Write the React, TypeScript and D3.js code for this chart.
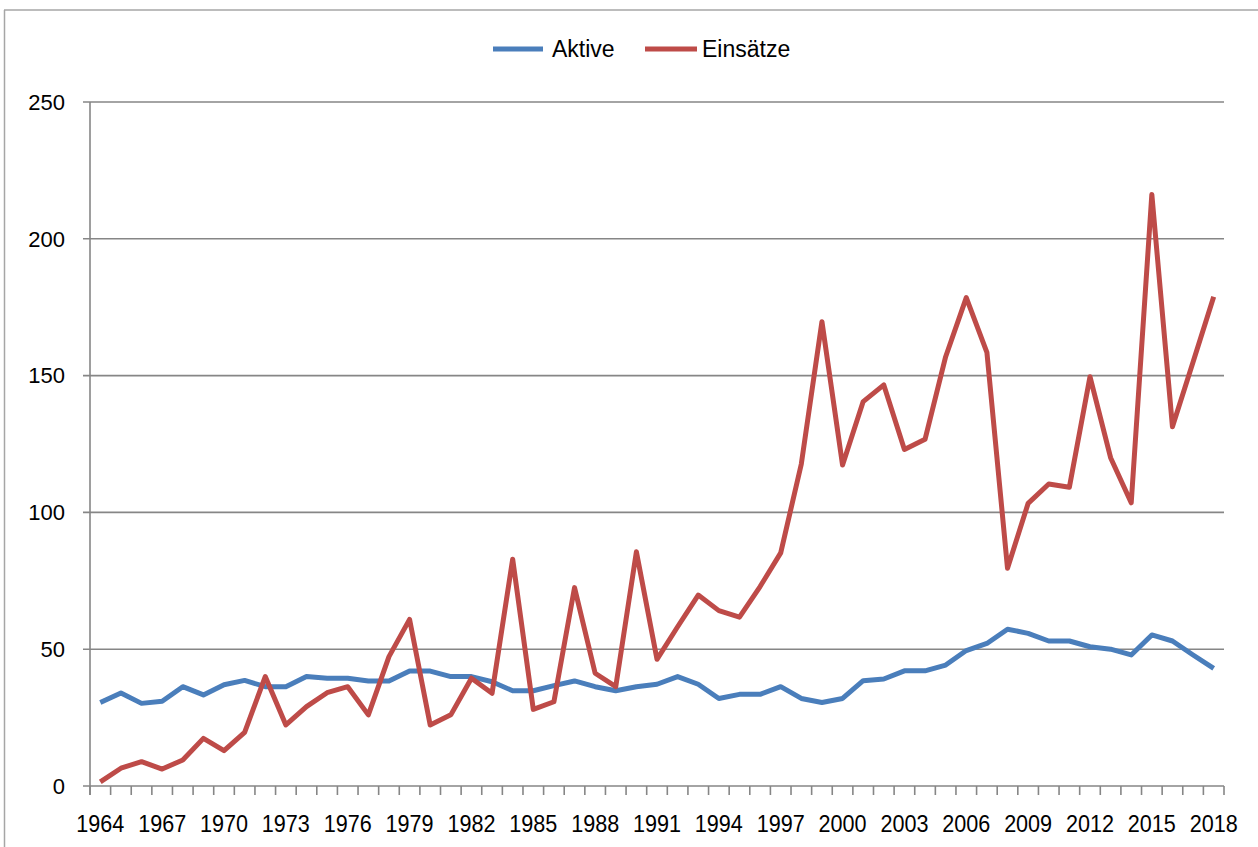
import React from "react";
import * as d3 from "d3";

// years on the category axis
const years: number[] = d3.range(1964, 2019);

// Aktive (blue)
const aktive: number[] = [
  30.5, 34, 30.2, 31, 36.3, 33.3, 37, 38.6, 36.3, 36.3,
  40, 39.4, 39.4, 38.4, 38.4, 42, 42, 40, 40, 38.1,
  34.8, 34.8, 36.7, 38.4, 36.3, 34.8, 36.3, 37.2, 40, 37.2,
  32, 33.5, 33.5, 36.3, 32, 30.5, 32, 38.5, 39.1, 42.1,
  42.1, 44.2, 49.5, 52.1, 57.3, 55.8, 53, 53, 50.9, 50,
  47.9, 55.2, 53, 47.9, 43,
];

// Einsätze (red)
const einsaetze: number[] = [
  1.5, 6.5, 8.9, 6.2, 9.5, 17.4, 12.9, 19.6, 40, 22.3,
  29, 34.1, 36.3, 26, 47.3, 60.9, 22.3, 26, 39.4, 33.9,
  82.9, 28, 30.8, 72.5, 41.2, 36.3, 85.6, 46.3, 58.2, 69.8,
  64.1, 61.7, 72.9, 85.2, 117.7, 169.7, 117.3, 140.5, 146.6, 123,
  126.7, 156.9, 178.5, 158.5, 79.6, 103.3, 110.4, 109.2, 149.6, 120,
  103.5, 216.2, 131.3, 155, 178.8,
];

const yTicks: number[] = [0, 50, 100, 150, 200, 250];
const seriesNames: string[] = ["Aktive", "Einsätze"];
const seriesColors: string[] = ["#4A7EBB", "#BE4B48"];

const W = 1258;
const H = 847;
const margin = { top: 102, right: 34, bottom: 61, left: 90 };
const font = "'Liberation Sans', Arial, sans-serif";

export default function App() {
  const innerW = W - margin.left - margin.right;
  const innerH = H - margin.top - margin.bottom;

  const x = d3.scaleBand<number>().domain(years).range([0, innerW]).padding(0);
  const y = d3.scaleLinear().domain([0, 250]).range([innerH, 0]);
  const cx = (yr: number) => (x(yr) as number) + x.bandwidth() / 2;

  const line = d3
    .line<number>()
    .x((_, i) => cx(years[i]))
    .y((d) => y(d));

  const boundaries = years.map((yr) => x(yr) as number).concat([innerW]);
  const gridColor = "#868686";

  const legendItems = [
    { name: seriesNames[0], color: seriesColors[0], x0: 493, len: 50, gap: 9 },
    { name: seriesNames[1], color: seriesColors[1], x0: 645, len: 52, gap: 5 },
  ];

  return (
    <svg
      width={W}
      height={H}
      style={{ position: "absolute", left: 0, top: 0, background: "#fff" }}
    >
      {/* chart frame */}
      <line x1={4} x2={W} y1={10} y2={10} stroke="#a6a6a6" strokeWidth={1.5} />
      <line x1={4.5} x2={4.5} y1={10} y2={H} stroke="#a6a6a6" strokeWidth={1.5} />

      {/* legend */}
      {legendItems.map((it) => (
        <g key={it.name}>
          <line
            x1={it.x0}
            x2={it.x0 + it.len}
            y1={49}
            y2={49}
            stroke={it.color}
            strokeWidth={5}
          />
          <text
            x={it.x0 + it.len + it.gap}
            y={49}
            dy="0.35em"
            fontFamily={font}
            fontSize={23}
            fill="#000"
          >
            {it.name}
          </text>
        </g>
      ))}

      <g transform={`translate(${margin.left},${margin.top})`}>
        {/* y grid + labels */}
        {yTicks.map((t) => (
          <g key={t}>
            <line
              x1={-7}
              x2={innerW}
              y1={y(t)}
              y2={y(t)}
              stroke={gridColor}
              strokeWidth={1.6}
            />
            <text
              x={-25}
              y={y(t)}
              dy="0.35em"
              textAnchor="end"
              fontFamily={font}
              fontSize={22}
              fill="#000"
            >
              {t}
            </text>
          </g>
        ))}

        {/* y axis line */}
        <line x1={0} x2={0} y1={0} y2={innerH + 9} stroke={gridColor} strokeWidth={1.6} />

        {/* x tick marks between categories */}
        {boundaries.map((b, i) => (
          <line
            key={i}
            x1={b}
            x2={b}
            y1={innerH}
            y2={innerH + 9}
            stroke={gridColor}
            strokeWidth={1.6}
          />
        ))}

        {/* x labels every third year */}
        {years
          .filter((_, i) => i % 3 === 0)
          .map((yr) => (
            <text
              key={yr}
              x={cx(yr)}
              y={innerH + 37.5}
              dy="0.35em"
              textAnchor="middle"
              fontFamily={font}
              fontSize={23}
              textLength={48}
              lengthAdjust="spacingAndGlyphs"
              fill="#000"
            >
              {yr}
            </text>
          ))}

        {/* series */}
        {[aktive, einsaetze].map((s, k) => (
          <path
            key={k}
            d={line(s) || ""}
            fill="none"
            stroke={seriesColors[k]}
            strokeWidth={5}
            strokeLinejoin="round"
          />
        ))}
      </g>
    </svg>
  );
}
